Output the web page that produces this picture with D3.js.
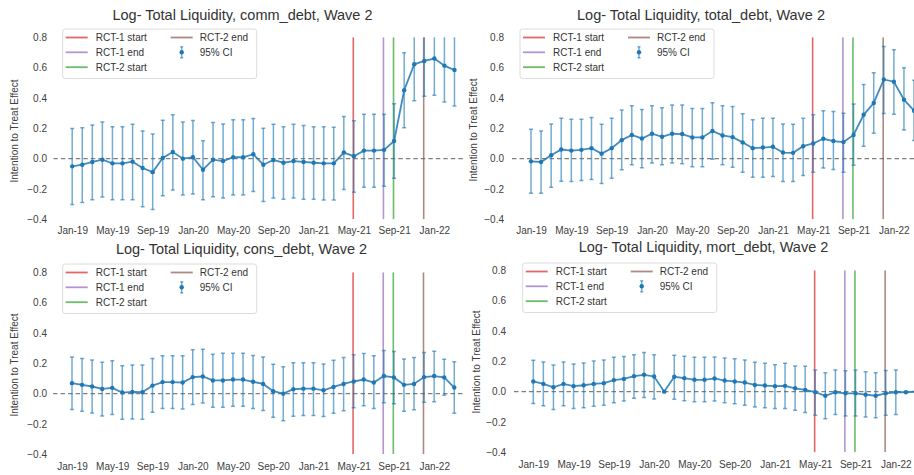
<!DOCTYPE html>
<html>
<head>
<meta charset="utf-8">
<script src="https://cdn.jsdelivr.net/npm/d3@7"></script>
<style>
  html, body { margin: 0; padding: 0; background: #fff; }
  svg { display: block; font-family: "Liberation Sans", Arial, sans-serif; }
</style>
</head>
<body>
<div id="chart"></div>
<script>
// months on the x axis (one estimate per month)
const months = ["Jan-19","Feb-19","Mar-19","Apr-19","May-19","Jun-19","Jul-19","Aug-19","Sep-19","Oct-19","Nov-19","Dec-19",
  "Jan-20","Feb-20","Mar-20","Apr-20","May-20","Jun-20","Jul-20","Aug-20","Sep-20","Oct-20","Nov-20","Dec-20",
  "Jan-21","Feb-21","Mar-21","Apr-21","May-21","Jun-21","Jul-21","Aug-21","Sep-21","Oct-21","Nov-21","Dec-21",
  "Jan-22","Feb-22","Mar-22"];
const tickLabels = ["Jan-19","May-19","Sep-19","Jan-20","May-20","Sep-20","Jan-21","May-21","Sep-21","Jan-22"];
const yTicks = [-0.4, -0.2, 0.0, 0.2, 0.4, 0.6, 0.8];

// RCT event markers
const eventNames = ["RCT-1 start", "RCT-1 end", "RCT-2 start", "RCT-2 end"];
const eventMonths = ["May-21", "Aug-21", "Sep-21", "Dec-21"];
const eventColors = ["#d62728", "#9467bd", "#2ca02c", "#8c564b"];

// comm_debt
const commMean = [-0.051,-0.040,-0.022,-0.007,-0.031,-0.031,-0.020,-0.062,-0.089,0.004,0.044,0.000,0.009,-0.073,-0.007,-0.016,0.009,0.009,0.029,-0.040,-0.009,-0.027,-0.016,-0.022,-0.027,-0.031,-0.031,0.040,0.016,0.053,0.053,0.058,0.116,0.451,0.622,0.644,0.660,0.613,0.584];
const commLo = [-0.302,-0.289,-0.271,-0.253,-0.271,-0.271,-0.271,-0.318,-0.336,-0.244,-0.207,-0.240,-0.233,-0.271,-0.251,-0.260,-0.240,-0.240,-0.216,-0.282,-0.260,-0.267,-0.260,-0.267,-0.267,-0.273,-0.273,-0.204,-0.222,-0.189,-0.189,-0.182,-0.129,0.204,0.382,0.411,0.418,0.373,0.347];
const commHi = [0.198,0.204,0.222,0.242,0.211,0.211,0.227,0.182,0.162,0.253,0.289,0.242,0.251,0.118,0.238,0.229,0.256,0.256,0.264,0.200,0.227,0.211,0.227,0.218,0.211,0.211,0.207,0.278,0.249,0.293,0.293,0.293,0.362,0.698,0.862,0.877,0.902,0.853,0.821];

// total_debt
const totalMean = [-0.018,-0.022,0.022,0.060,0.053,0.058,0.069,0.033,0.069,0.122,0.156,0.133,0.164,0.144,0.164,0.162,0.140,0.140,0.182,0.153,0.142,0.107,0.069,0.073,0.078,0.040,0.038,0.082,0.100,0.131,0.116,0.109,0.156,0.289,0.367,0.522,0.507,0.389,0.316];
const totalLo = [-0.229,-0.229,-0.189,-0.149,-0.151,-0.144,-0.138,-0.164,-0.129,-0.073,-0.040,-0.060,-0.029,-0.040,-0.029,-0.033,-0.053,-0.053,-0.004,-0.040,-0.056,-0.089,-0.122,-0.122,-0.118,-0.151,-0.151,-0.111,-0.089,-0.062,-0.071,-0.089,-0.044,0.082,0.167,0.298,0.293,0.189,0.120];
const totalHi = [0.193,0.182,0.229,0.267,0.260,0.260,0.271,0.227,0.267,0.320,0.349,0.324,0.349,0.336,0.353,0.353,0.331,0.331,0.368,0.349,0.344,0.296,0.256,0.267,0.267,0.229,0.227,0.267,0.289,0.316,0.311,0.300,0.360,0.489,0.567,0.740,0.718,0.600,0.517];

// cons_debt
const consMean = [0.069,0.058,0.047,0.031,0.038,0.007,0.011,0.009,0.053,0.076,0.076,0.073,0.109,0.113,0.087,0.087,0.093,0.093,0.078,0.064,0.016,0.000,0.029,0.033,0.033,0.022,0.044,0.064,0.080,0.093,0.073,0.116,0.107,0.058,0.064,0.109,0.116,0.107,0.040];
const consLo = [-0.104,-0.116,-0.127,-0.147,-0.138,-0.169,-0.167,-0.169,-0.122,-0.098,-0.098,-0.102,-0.071,-0.062,-0.089,-0.089,-0.084,-0.084,-0.098,-0.111,-0.156,-0.178,-0.149,-0.144,-0.144,-0.151,-0.129,-0.113,-0.093,-0.080,-0.098,-0.060,-0.067,-0.116,-0.107,-0.056,-0.053,-0.011,-0.129];
const consHi = [0.242,0.231,0.222,0.207,0.216,0.184,0.189,0.189,0.231,0.249,0.249,0.249,0.289,0.293,0.260,0.267,0.267,0.267,0.251,0.242,0.193,0.178,0.204,0.204,0.204,0.196,0.220,0.238,0.256,0.264,0.249,0.284,0.278,0.229,0.238,0.271,0.280,0.227,0.211];

// mort_debt
const mortMean = [0.067,0.051,0.029,0.051,0.036,0.042,0.051,0.056,0.076,0.084,0.102,0.111,0.100,0.000,0.098,0.089,0.078,0.078,0.087,0.073,0.067,0.060,0.044,0.040,0.036,0.038,0.022,0.011,-0.004,-0.027,-0.004,-0.011,-0.011,-0.020,-0.027,-0.011,-0.004,-0.004,0.000];
const mortLo = [-0.078,-0.093,-0.118,-0.093,-0.111,-0.107,-0.096,-0.089,-0.073,-0.062,-0.044,-0.038,-0.049,0.000,-0.051,-0.060,-0.067,-0.067,-0.062,-0.073,-0.080,-0.089,-0.102,-0.107,-0.111,-0.111,-0.122,-0.138,-0.156,-0.178,-0.151,-0.160,-0.160,-0.167,-0.173,-0.156,-0.151,-0.004,0.000];
const mortHi = [0.207,0.196,0.176,0.196,0.182,0.189,0.202,0.209,0.227,0.231,0.244,0.258,0.244,0.000,0.240,0.233,0.227,0.227,0.229,0.222,0.216,0.209,0.193,0.187,0.178,0.187,0.169,0.167,0.142,0.124,0.142,0.138,0.142,0.131,0.124,0.140,0.142,-0.004,0.000];

const width = 914;
const height = 475;
const blue = "#1f77b4";
const textColor = "#404040";

// panel placement in the composite picture
const panels = [
  { name: "total_debt", mean: totalMean, lo: totalLo, hi: totalHi,
    x0: 531, step: 10.08, axLeft: 512, axRight: 914, yTop: 37.3, yBot: 219.3,
    yTickX: 504, xTickY: 233.5, titleX: 701, titleY: 19.5, ylabX: 474, ylabY: 130, legX: 520, legY: 29 },
  { name: "mort_debt", mean: mortMean, lo: mortLo, hi: mortHi,
    x0: 533.3, step: 10.07, axLeft: 514, axRight: 914, yTop: 270.3, yBot: 452.3,
    yTickX: 506, xTickY: 468, titleX: 703.5, titleY: 252, ylabX: 477, ylabY: 362, legX: 522.7, legY: 263 },
  { name: "comm_debt", mean: commMean, lo: commLo, hi: commHi,
    x0: 72.2, step: 10.06, axLeft: 53.3, axRight: 463, yTop: 37.3, yBot: 219.3,
    yTickX: 47, xTickY: 233.5, titleX: 242.5, titleY: 19.5, ylabX: 15, ylabY: 131, legX: 62.7, legY: 29 },
  { name: "cons_debt", mean: consMean, lo: consLo, hi: consHi,
    x0: 72, step: 10.06, axLeft: 53, axRight: 463, yTop: 272.3, yBot: 454.3,
    yTickX: 47, xTickY: 470, titleX: 241.5, titleY: 254, ylabX: 15, ylabY: 365, legX: 62.7, legY: 264 }
];

const svg = d3.select("#chart").append("svg")
  .attr("width", width)
  .attr("height", height);

svg.append("rect").attr("width", width).attr("height", height).attr("fill", "#fff");

function drawPanel(p, idx) {
  const g = svg.append("g");
  const clipId = "clip" + idx;

  const x = d3.scaleLinear()
    .domain([0, months.length - 1])
    .range([p.x0, p.x0 + (months.length - 1) * p.step]);
  const y = d3.scaleLinear().domain([-0.4, 0.8]).range([p.yBot, p.yTop]);

  svg.append("clipPath").attr("id", clipId)
    .append("rect")
    .attr("x", p.axLeft).attr("y", p.yTop)
    .attr("width", p.axRight - p.axLeft).attr("height", p.yBot - p.yTop);

  // title
  g.append("text")
    .attr("x", p.titleX).attr("y", p.titleY)
    .attr("text-anchor", "middle")
    .attr("font-size", 14.5)
    .attr("fill", "#333")
    .text(`Log- Total Liquidity, ${p.name}, Wave 2`);

  // y label
  g.append("text")
    .attr("transform", `translate(${p.ylabX},${p.ylabY}) rotate(-90)`)
    .attr("text-anchor", "middle")
    .attr("dominant-baseline", "middle")
    .attr("font-size", 10)
    .attr("fill", textColor)
    .text("Intention to Treat Effect");

  // y axis ticks
  const yAxis = d3.axisLeft(y)
    .tickValues(yTicks)
    .tickFormat(d3.format(".1f"))
    .tickSize(0)
    .tickPadding(0);
  g.append("g")
    .attr("transform", `translate(${p.yTickX},0)`)
    .call(yAxis)
    .call(s => s.select(".domain").remove())
    .call(s => s.selectAll("text").attr("font-size", 10).attr("fill", textColor)
      .attr("font-family", "Liberation Sans, Arial, sans-serif"));

  // x axis ticks
  const xAxis = d3.axisBottom(x)
    .tickValues(tickLabels.map(t => months.indexOf(t)))
    .tickFormat(i => months[i])
    .tickSize(0)
    .tickPadding(0);
  g.append("g")
    .attr("transform", `translate(0,${p.xTickY - 10})`)
    .call(xAxis)
    .call(s => s.select(".domain").remove())
    .call(s => s.selectAll("text").attr("font-size", 10).attr("fill", textColor)
      .attr("dy", 0).attr("y", 10)
      .attr("font-family", "Liberation Sans, Arial, sans-serif"));

  const plot = g.append("g").attr("clip-path", `url(#${clipId})`);

  // zero reference
  plot.append("line")
    .attr("x1", p.axLeft).attr("x2", p.axRight)
    .attr("y1", y(0)).attr("y2", y(0))
    .attr("stroke", "#808080")
    .attr("stroke-width", 1.3)
    .attr("stroke-dasharray", "4.5,3");

  // event lines
  plot.selectAll(".event")
    .data(eventMonths)
    .join("line")
    .attr("class", "event")
    .attr("x1", d => x(months.indexOf(d)) - 0.6)
    .attr("x2", d => x(months.indexOf(d)) - 0.6)
    .attr("y1", y(0.8)).attr("y2", y(-0.4))
    .attr("stroke", (d, i) => eventColors[i])
    .attr("stroke-opacity", 0.7)
    .attr("stroke-width", 1.6);

  const pts = months.map((m, i) => ({ i, mean: p.mean[i], lo: p.lo[i], hi: p.hi[i] }));

  // error bars
  const bars = plot.append("g")
    .attr("stroke", blue)
    .attr("stroke-opacity", 0.62)
    .attr("stroke-width", 1.5);
  bars.selectAll(".bar").data(pts).join("line")
    .attr("class", "bar")
    .attr("x1", d => x(d.i)).attr("x2", d => x(d.i))
    .attr("y1", d => y(d.lo)).attr("y2", d => y(d.hi));
  bars.selectAll(".capHi").data(pts).join("line")
    .attr("class", "capHi")
    .attr("x1", d => x(d.i) - 2).attr("x2", d => x(d.i) + 2)
    .attr("y1", d => y(d.hi)).attr("y2", d => y(d.hi));
  bars.selectAll(".capLo").data(pts).join("line")
    .attr("class", "capLo")
    .attr("x1", d => x(d.i) - 2).attr("x2", d => x(d.i) + 2)
    .attr("y1", d => y(d.lo)).attr("y2", d => y(d.lo));

  // point estimates
  const line = d3.line().x(d => x(d.i)).y(d => y(d.mean));
  plot.append("path")
    .datum(pts)
    .attr("d", line)
    .attr("fill", "none")
    .attr("stroke", blue)
    .attr("stroke-opacity", 0.85)
    .attr("stroke-width", 1.8);
  plot.selectAll(".dot").data(pts).join("circle")
    .attr("class", "dot")
    .attr("cx", d => x(d.i)).attr("cy", d => y(d.mean))
    .attr("r", 2.2)
    .attr("fill", blue);

  // legend
  const leg = g.append("g").attr("transform", `translate(${p.legX},${p.legY})`);
  leg.append("rect")
    .attr("width", 194).attr("height", 49.5)
    .attr("rx", 2.5)
    .attr("fill", "#fff").attr("fill-opacity", 0.85)
    .attr("stroke", "#d8d8d8").attr("stroke-width", 0.9);
  const rowY = [8.5, 23.3, 38.2];
  const items = eventNames.map((n, i) => ({ name: n, color: eventColors[i], col: i < 3 ? 0 : 1, row: i < 3 ? i : 0 }));
  const colLine = [3, 108];
  const colText = [33, 137];
  items.forEach(it => {
    leg.append("line")
      .attr("x1", colLine[it.col]).attr("x2", colLine[it.col] + 22)
      .attr("y1", rowY[it.row]).attr("y2", rowY[it.row])
      .attr("stroke", it.color).attr("stroke-opacity", 0.7).attr("stroke-width", 1.8);
    leg.append("text")
      .attr("x", colText[it.col]).attr("y", rowY[it.row])
      .attr("dominant-baseline", "central")
      .attr("font-size", 10).attr("fill", "#333")
      .text(it.name);
  });
  const ciX = colLine[1] + 11;
  leg.append("line")
    .attr("x1", ciX).attr("x2", ciX)
    .attr("y1", rowY[1] - 5.5).attr("y2", rowY[1] + 5.5)
    .attr("stroke", blue).attr("stroke-opacity", 0.62).attr("stroke-width", 1.5);
  [rowY[1] - 5.5, rowY[1] + 5.5].forEach(cy => {
    leg.append("line")
      .attr("x1", ciX - 1.5).attr("x2", ciX + 1.5)
      .attr("y1", cy).attr("y2", cy)
      .attr("stroke", blue).attr("stroke-opacity", 0.62).attr("stroke-width", 1.5);
  });
  leg.append("circle").attr("cx", ciX).attr("cy", rowY[1]).attr("r", 2.2).attr("fill", blue);
  leg.append("text")
    .attr("x", colText[1]).attr("y", rowY[1])
    .attr("dominant-baseline", "central")
    .attr("font-size", 10).attr("fill", "#333")
    .text("95% CI");
}

panels.forEach(drawPanel);
</script>
</body>
</html>
